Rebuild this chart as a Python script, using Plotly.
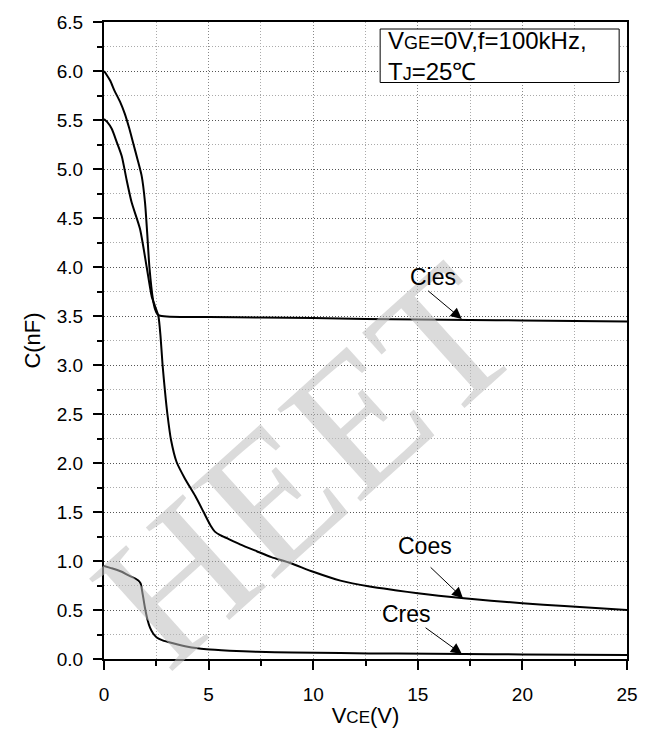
import plotly.graph_objects as go

# ---- data ----
cies_v = [0, 0.1, 0.3, 0.5, 0.76, 1.0, 1.2, 1.4, 1.6, 1.8, 1.96, 2.07, 2.17, 2.34, 2.44, 2.55, 2.65, 2.76,
          3.0, 4, 5, 7.5, 10, 12.5, 15, 17.5, 20, 22.5, 25]
cies_c = [6.00, 5.97, 5.90, 5.80, 5.69, 5.56, 5.42, 5.26, 5.10, 4.93, 4.66, 4.33, 4.00, 3.67, 3.57, 3.52, 3.505, 3.50,
          3.495, 3.49, 3.49, 3.485, 3.48, 3.47, 3.465, 3.46, 3.455, 3.45, 3.445]

coes_v = [0, 0.15, 0.37, 0.6, 0.85, 1.08, 1.32, 1.72, 2.04, 2.28, 2.44, 2.6, 2.7, 2.8, 2.92, 3.03, 3.2, 3.47, 3.87,
          4.37, 4.76, 5.1, 5.3, 5.55, 5.9, 6.5, 7.3, 8.0, 8.9, 10, 11.3, 12.7, 14, 15, 16, 17.2, 18.5, 20, 22, 23.5, 25]
coes_c = [5.51, 5.48, 5.41, 5.28, 5.13, 4.89, 4.66, 4.39, 4.00, 3.70, 3.60, 3.50, 3.30, 3.00, 2.72, 2.50, 2.24, 2.01, 1.84,
          1.66, 1.50, 1.36, 1.30, 1.265, 1.23, 1.17, 1.10, 1.04, 0.98, 0.89, 0.80, 0.74, 0.70, 0.67, 0.645, 0.62, 0.595, 0.57, 0.54, 0.52, 0.50]

cres_v = [0, 0.3, 0.6, 0.85, 1.2, 1.5, 1.64, 1.75, 1.85, 1.96, 2.08, 2.2, 2.35, 2.52, 2.8, 3.3, 4.0, 4.9, 6, 7.3,
          9, 11.3, 14, 17.2, 20, 25]
cres_c = [0.95, 0.93, 0.91, 0.89, 0.85, 0.82, 0.80, 0.77, 0.66, 0.52, 0.40, 0.32, 0.26, 0.22, 0.19, 0.16, 0.125, 0.10, 0.085, 0.073,
          0.066, 0.06, 0.055, 0.05, 0.047, 0.042]

x_ticks = [0, 5, 10, 15, 20, 25]
y_ticks = [0.0, 0.5, 1.0, 1.5, 2.0, 2.5, 3.0, 3.5, 4.0, 4.5, 5.0, 5.5, 6.0, 6.5]
y_tick_text = ["%.1f" % v for v in y_ticks]

# curve labels: name, text position, arrow tail, arrow head
labels = ["Cies", "Coes", "Cres"]
label_x = [15.73, 15.34, 14.48]
label_y = [3.90, 1.15, 0.46]
tail_x = [15.42, 15.54, 15.3]
tail_y = [3.77, 0.95, 0.33]
head_x = [17.1, 17.16, 17.11]
head_y = [3.47, 0.62, 0.05]

FONT = "Liberation Sans, Arial, sans-serif"

fig = go.Figure()
for xs, ys in [(cies_v, cies_c), (coes_v, coes_c), (cres_v, cres_c)]:
    fig.add_trace(go.Scatter(x=xs, y=ys, mode="lines", line=dict(color="black", width=2, shape="spline", smoothing=0.6),
                             showlegend=False, hoverinfo="skip"))

annotations = []
# watermark (drawn first)
annotations.append(dict(x=0.385, y=0.305, xref="paper", yref="paper", xanchor="center", yanchor="middle",
                        text="HEET", showarrow=False, textangle=-42,
                        font=dict(family="Liberation Serif, serif", size=190, color="rgba(190,190,190,0.55)")))
for t, lx, ly in zip(labels, label_x, label_y):
    annotations.append(dict(x=lx, y=ly, xref="x", yref="y", text=t, showarrow=False,
                            font=dict(family=FONT, size=23, color="black")))
for tx, ty, hx, hy in zip(tail_x, tail_y, head_x, head_y):
    annotations.append(dict(x=hx, y=hy, xref="x", yref="y", ax=tx, ay=ty, axref="x", ayref="y",
                            text="", showarrow=True, arrowhead=2, arrowsize=2.2, arrowwidth=1,
                            arrowcolor="black", standoff=0, startstandoff=0))

# condition box text
annotations.append(dict(x=0.539, y=0.947, xref="paper", yref="paper", xanchor="left", yanchor="middle",
                        align="left", showarrow=False,
                        text="V<span style='font-size:18px'>GE</span>=0V,f=100kHz,<br>"
                             "T<span style='font-size:18px'>J</span>=25\u2103",
                        font=dict(family=FONT, size=24, color="black")))

fig.update_layout(
    width=651, height=736,
    margin=dict(l=104, r=24, t=15, b=67),
    paper_bgcolor="white", plot_bgcolor="white",
    annotations=annotations,
    shapes=[dict(type="rect", xref="paper", yref="paper", x0=0.528, x1=0.985, y0=0.905, y1=0.989,
                 line=dict(color="black", width=1), fillcolor="white", layer="above")],
    xaxis=dict(range=[0, 25], tickvals=x_ticks, ticks="outside", ticklen=9, tickwidth=2, tickcolor="black",
               showline=True, linecolor="black", linewidth=2, mirror=True, zeroline=False,
               showgrid=True, gridcolor="#888888", griddash="1px,2px", gridwidth=1,
               minor=dict(dtick=2.5, ticks="outside", ticklen=5, tickwidth=2, tickcolor="black",
                          showgrid=True, gridcolor="#aaaaaa", griddash="1px,2px", gridwidth=1),
               tickfont=dict(family=FONT, size=19, color="black"), ticklabelstandoff=8,
               title=dict(text="V<span style='font-size:17px'>CE</span>(V)",
                          font=dict(family=FONT, size=22, color="black"), standoff=4)),
    yaxis=dict(range=[0, 6.5], tickvals=y_ticks, ticktext=y_tick_text, ticks="outside", ticklen=9, tickwidth=2,
               tickcolor="black", showline=True, linecolor="black", linewidth=2, mirror=True, zeroline=False,
               showgrid=True, gridcolor="#555555", griddash="1px,2px", gridwidth=1,
               minor=dict(dtick=0.25, ticks="outside", ticklen=5, tickwidth=2, tickcolor="black",
                          showgrid=True, gridcolor="#aaaaaa", griddash="1px,2px", gridwidth=1),
               tickfont=dict(family=FONT, size=19, color="black"), ticklabelstandoff=6,
               title=dict(text="C(nF)", font=dict(family=FONT, size=22, color="black"), standoff=10)),
)

fig.write_html("out.html")
